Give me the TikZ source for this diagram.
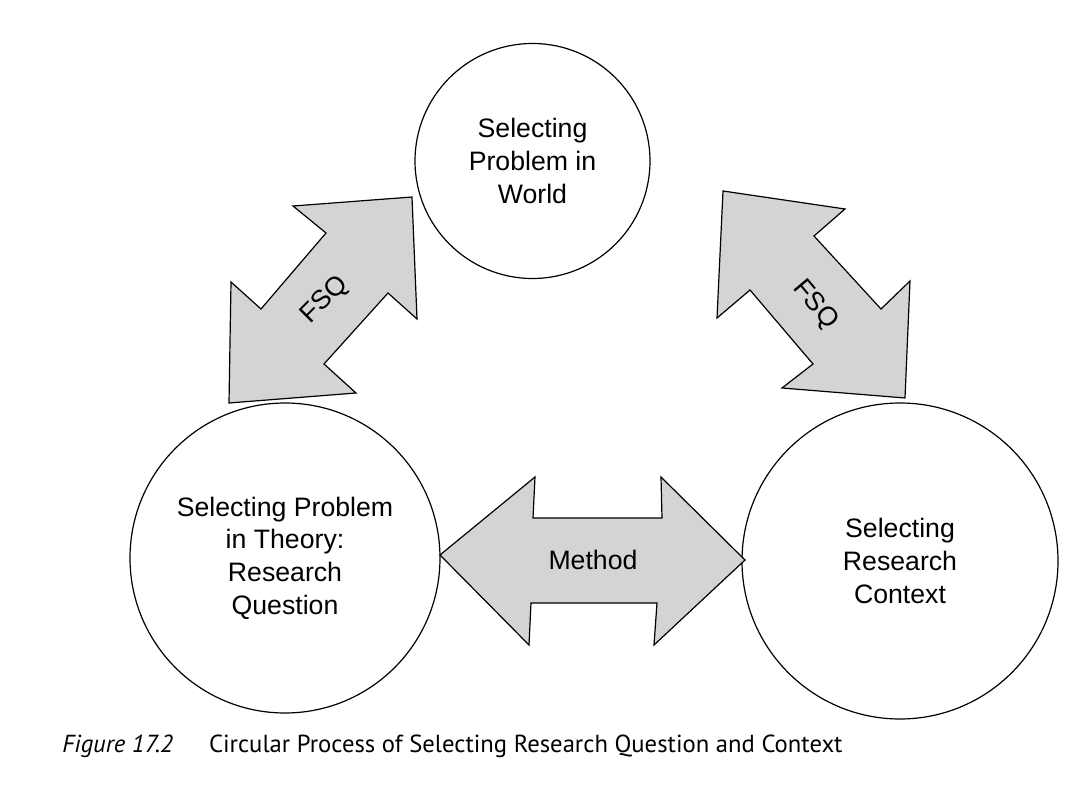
\documentclass[tikz,border=0pt]{standalone}
\usepackage{fontspec}
\setmainfont{Liberation Sans}
\newfontfamily\capfont{PT Sans}
\definecolor{arrowgray}{HTML}{D3D4D6}
\begin{document}
\begin{tikzpicture}[x=0.75pt,y=-0.75pt,
  stage/.style={circle,draw=black,line width=0.9pt,align=center,font=\fontsize{20}{24.5}\selectfont,inner sep=0pt},
  bigarrow/.style={draw=black,fill=arrowgray,line width=0.9pt,line join=miter},
  arrowlabel/.style={font=\fontsize{20}{24}\selectfont,inner sep=0pt}]
\useasboundingbox (0,0) rectangle (1068,798);
% circles
\node[stage,minimum size=176.25pt] (world) at (532.5,161) {Selecting\\Problem in\\World};
\node[stage,minimum size=232.5pt] (theory) at (285,558) {Selecting Problem\\in Theory:\\Research\\Question};
\node[stage,minimum size=237pt] (context) at (900,561) {Selecting\\Research\\Context};
% left FSQ arrow
\draw[bigarrow] (412,197) -- (293,206) -- (326,233) -- (261,309) -- (231,282) -- (229,403)
  -- (356,393) -- (324,364) -- (388,293) -- (417,319) -- cycle;
% right FSQ arrow
\draw[bigarrow] (723,191) -- (845,209) -- (814,236) -- (881,309) -- (910,281) -- (905,398)
  -- (782,388) -- (813,364) -- (750,290) -- (717,318) -- cycle;
% method arrow
\draw[bigarrow] (440,555) -- (535,477) -- (533,518) -- (662,518) -- (661,477) -- (745,560)
  -- (654,645) -- (657,603) -- (531,603) -- (529,645) -- cycle;
\node[arrowlabel,rotate=45] (fsq1) at (325,300) {FSQ};
\node[arrowlabel,rotate=-50] (fsq2) at (815,305) {FSQ};
\node[arrowlabel] (method) at (593,560) {Method};
% caption
\node[anchor=base west,inner sep=0pt,font=\capfont\fontsize{18.5}{22}\selectfont] (caption) at (62,752)
  {\textit{Figure 17.2}\hspace{27pt}Circular Process of Selecting Research Question and Context};
\end{tikzpicture}
\end{document}
